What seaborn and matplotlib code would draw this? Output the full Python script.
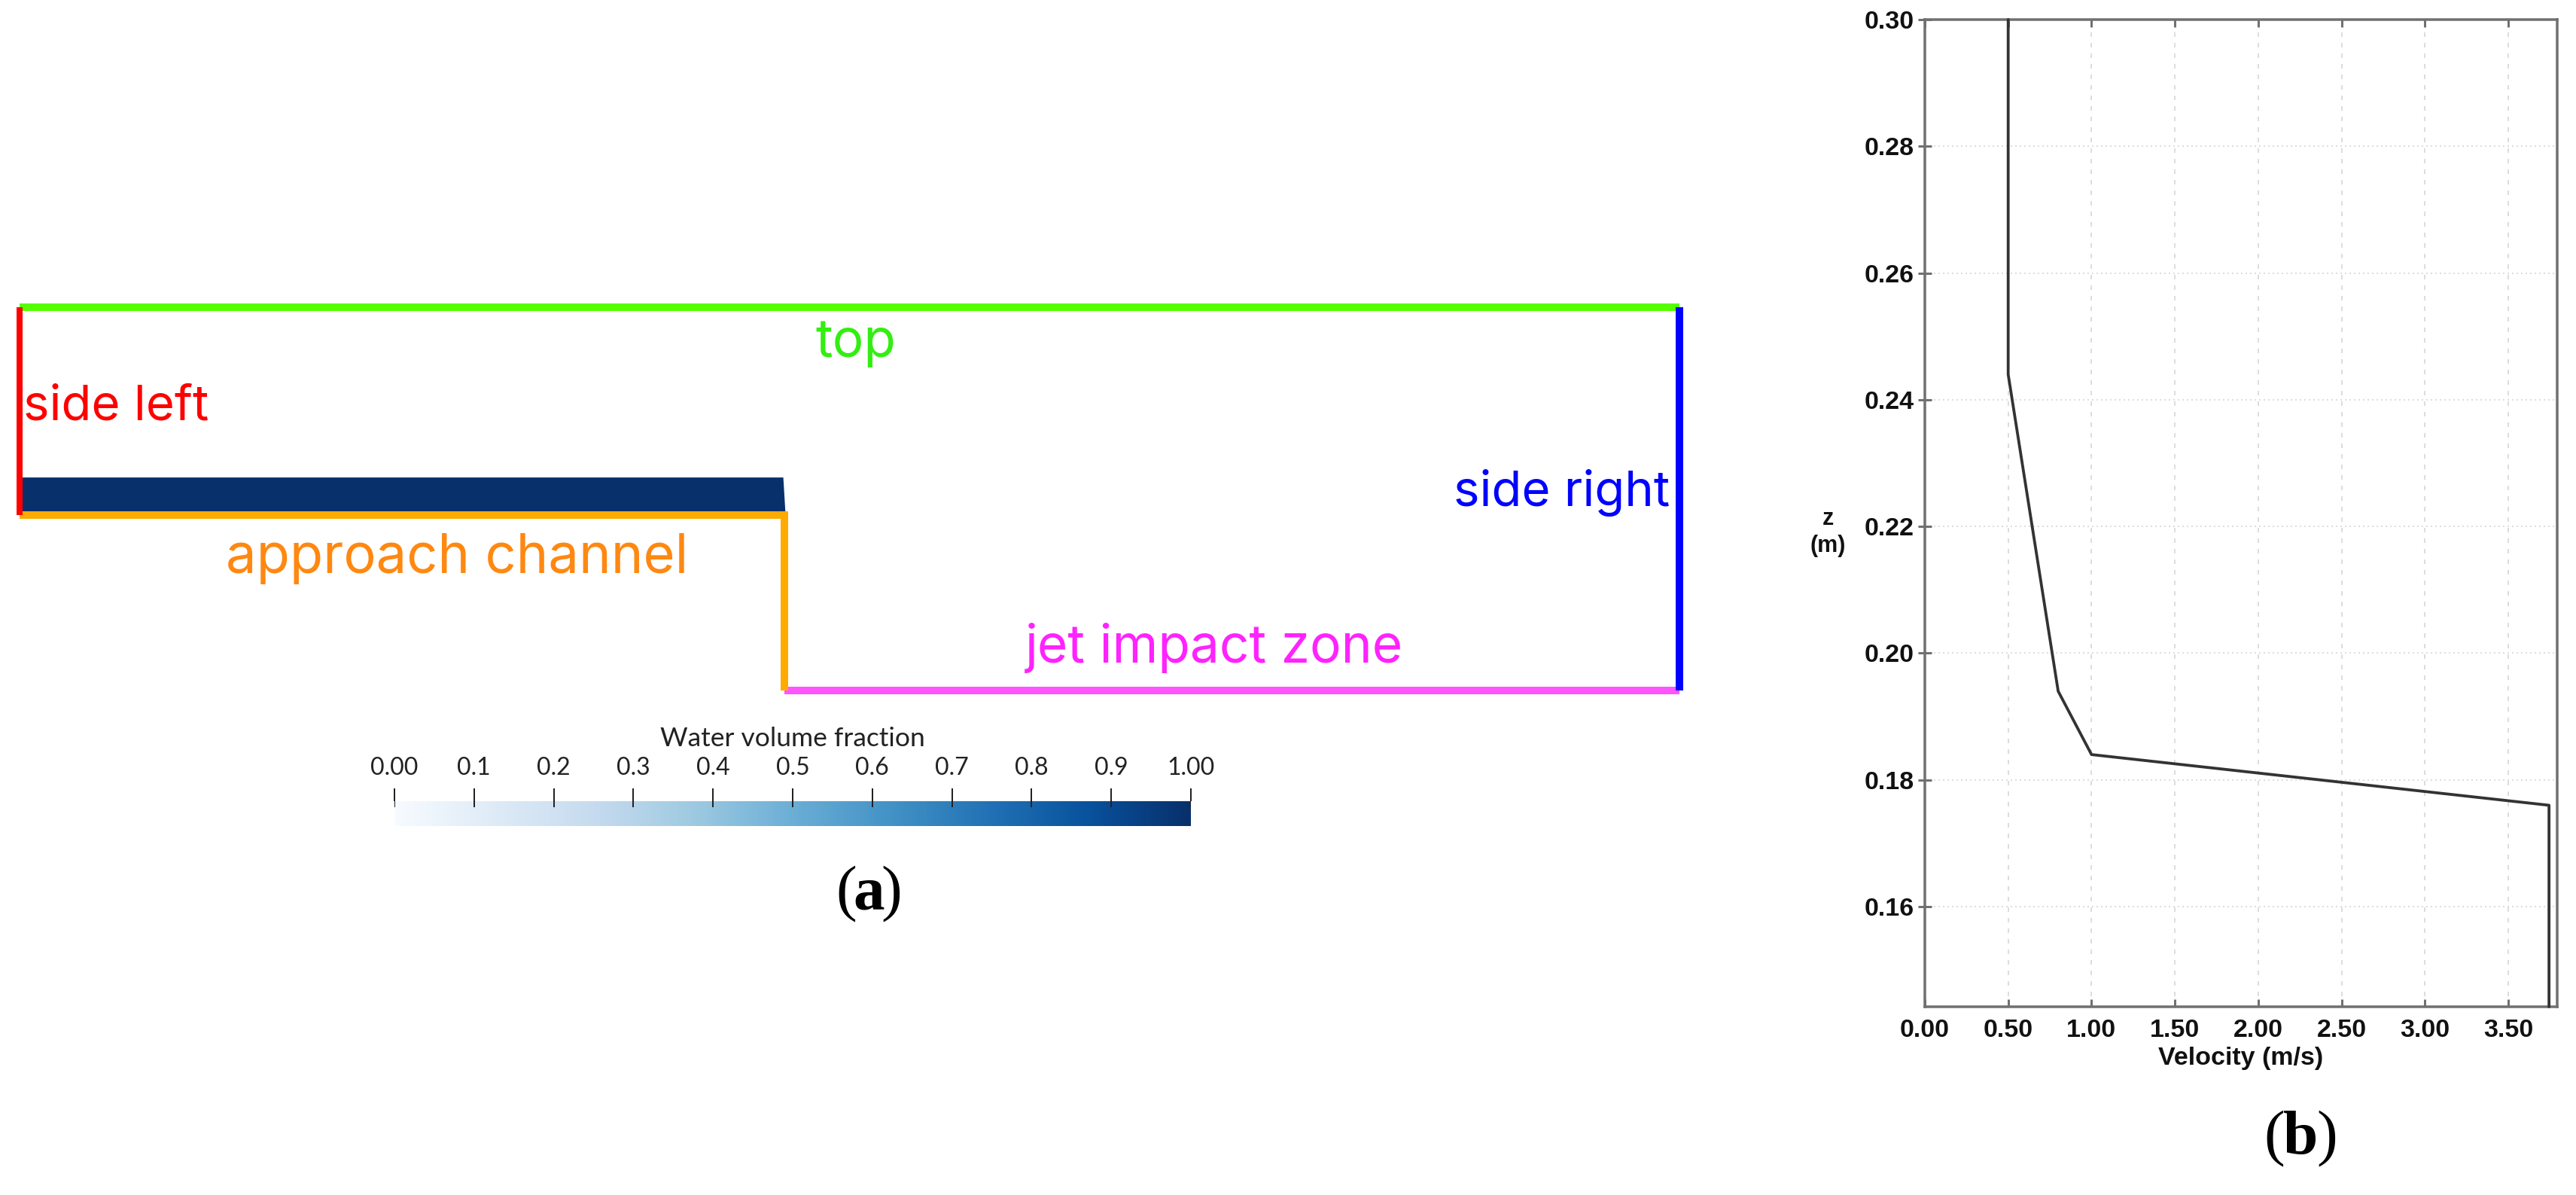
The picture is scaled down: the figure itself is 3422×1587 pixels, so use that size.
import numpy as np
import pandas as pd
import matplotlib
matplotlib.use("Agg")
import matplotlib.pyplot as plt
import seaborn as sns

W, H = 3423, 1587
DPI = 100
PT = 72 / DPI

# ---- panel (b) data
velocity = [0.50, 0.50, 0.80, 1.00, 3.745, 3.745]
height_z = [0.300, 0.244, 0.194, 0.184, 0.176, 0.1442]
vel_ticks = [0.0, 0.5, 1.0, 1.5, 2.0, 2.5, 3.0, 3.5]
z_ticks = [0.16, 0.18, 0.20, 0.22, 0.24, 0.26, 0.28, 0.30]

# ---- panel (a) data: domain outline, normalised by the domain length
bnd_names = ["top", "side left", "approach channel", "jet impact zone", "side right"]
bnd_x = [[0.0, 1.0], [0.0, 0.0], [0.0, 0.4608, 0.4608], [0.4608, 1.0], [1.0, 1.0]]
bnd_z = [[0.2308, 0.2308], [0.2308, 0.1057], [0.1057, 0.1057, 0.0], [0.0, 0.0], [0.2308, 0.0]]
bnd_widths = [10, 8, 10, 10, 10]
bnd_colors = ["#55ff00", "#ff0000", "#ffaa00", "#ff55ff", "#0000ff"]
water_x = [0.0, 0.4599, 0.4612]
water_z = [0.1285, 0.1285, 0.1067]
water_floor = 0.1067
label_text = ["top", "side left", "approach channel", "jet impact zone", "side right"]
label_colors = ["#33ee11", "#ff0000", "#ff8811", "#ff22ff", "#0000ff"]
label_sizes = [50, 47, 52, 50, 47]
cbar_ticks = [0.00, 0.10, 0.20, 0.30, 0.40, 0.50, 0.60, 0.70, 0.80, 0.90, 1.00]
cbar_labels = ["0.00", "0.1", "0.2", "0.3", "0.4", "0.5", "0.6", "0.7", "0.8", "0.9", "1.00"]

sns.set_theme(style="white")
plt.rcParams["font.family"] = ["Liberation Sans", "DejaVu Sans"]
fig = plt.figure(figsize=(W / DPI, H / DPI), dpi=DPI, facecolor="white")


def axpx(x0, y0, x1, y1):
    return fig.add_axes([x0 / W, 1 - y1 / H, (x1 - x0) / W, (y1 - y0) / H])


def ftext(x, y, s, **kw):
    return fig.text(x / W, 1 - y / H, s, **kw)


# ---- domain sketch
blues = sns.color_palette("Blues", as_cmap=True)
dom = axpx(26, 408, 2231, 917)
dom.set_xlim(0, 1)
dom.set_ylim(0, 0.2308)
dom.axis("off")
dom.fill_between(water_x, water_z, water_floor, color=blues(1.0), lw=0, zorder=1)
order = [3, 2, 0, 4, 1]
for i in order:
    df = pd.DataFrame({"x": bnd_x[i], "z": bnd_z[i]})
    sns.lineplot(data=df, x="x", y="z", sort=False, estimator=None, ax=dom,
                 color=bnd_colors[i], lw=bnd_widths[i] * PT, clip_on=False,
                 solid_capstyle="butt", solid_joinstyle="miter", zorder=3)
dom.set_xlabel("")
dom.set_ylabel("")

big = dict(family="Inter", ha="center", va="baseline")
label_xy = [(1137, 474), (154, 557), (607, 761), (1613, 880), (2075, 672)]
for s, c, fs, (x, y) in zip(label_text, label_colors, label_sizes, label_xy):
    ftext(x, y, s, color=c, fontsize=fs, **big)

# ---- colour bar
cb = axpx(524, 1064, 1582, 1097)
grad = np.linspace(0, 1, 512).reshape(1, -1)
cb.imshow(grad, cmap=blues, vmin=0, vmax=1, aspect="auto", extent=[0, 1, 0, 1])
for s in cb.spines.values():
    s.set_visible(False)
cb.set_yticks([])
cb.set_xticks(cbar_ticks, cbar_labels, family="Lato", fontsize=23, color="#222222")
cb.xaxis.tick_top()
cb.tick_params(axis="x", top=True, bottom=False, direction="out", length=17 * PT,
               width=2 * PT, color="#222222", pad=12 * PT)
cb.vlines(cbar_ticks, 0.76, 1.0, color="#222222", lw=2 * PT, zorder=4)
cb.set_xlim(0, 1)
cb.set_ylim(0, 1)
ftext(1053, 991, "Water volume fraction", family="Lato", fontsize=25.5,
      ha="center", va="baseline", color="#222222")

# ---- velocity profile
ax = axpx(2557, 26, 3397, 1337)
profile = pd.DataFrame({"velocity": velocity, "z": height_z})
sns.lineplot(data=profile, x="velocity", y="z", sort=False, estimator=None, ax=ax,
             color="#333333", lw=3.8 * PT, clip_on=False, zorder=3)
ax.set_xlim(0, 3.794)
ax.set_ylim(0.1442, 0.30)
ax.set_xticks(vel_ticks, [f"{v:.2f}" for v in vel_ticks])
ax.set_yticks(z_ticks, [f"{v:.2f}" for v in z_ticks])
for s in ax.spines.values():
    s.set_visible(True)
    s.set_color("#707070")
    s.set_linewidth(3.5 * PT)
ax.xaxis.grid(True, color="#dddddd", lw=2 * PT, ls=(0, (3, 4)))
ax.yaxis.grid(True, color="#dddddd", lw=2 * PT, ls=(0, (1, 2)))
ax.set_axisbelow(True)
ax.tick_params(axis="x", top=True, bottom=True, direction="in", length=10 * PT,
               width=3 * PT, color="#707070", pad=16 * PT, labelsize=24.5, labelcolor="#111111")
ax.tick_params(axis="y", left=True, direction="inout", length=18 * PT,
               width=3 * PT, color="#707070", pad=5 * PT, labelsize=24.5, labelcolor="#111111")
for t in ax.get_xticklabels() + ax.get_yticklabels():
    t.set_fontweight("bold")
ax.set_xlabel("Velocity (m/s)", fontweight="bold", fontsize=24.5, color="#111111")
ax.xaxis.label.set_va("center")
ax.xaxis.set_label_coords(0.5, -0.052, transform=ax.transAxes)
ax.set_ylabel("z\n(m)", fontweight="bold", fontsize=22, rotation=0, color="#111111",
              ha="center", va="center", linespacing=1.25)
ax.yaxis.set_label_coords(-0.153, 0.4805)

# ---- panel captions
serif = dict(family="Liberation Serif", fontsize=60, va="baseline", color="black")
ftext(1110, 1207, "(", ha="left", **serif)
ftext(1154, 1207, "a", ha="center", weight="bold", **serif)
ftext(1198, 1207, ")", ha="right", **serif)
ftext(3007, 1532, "(", ha="left", **serif)
ftext(3056, 1532, "b", ha="center", weight="bold", **serif)
ftext(3105, 1532, ")", ha="right", **serif)

fig.savefig("out.png", dpi=DPI)
